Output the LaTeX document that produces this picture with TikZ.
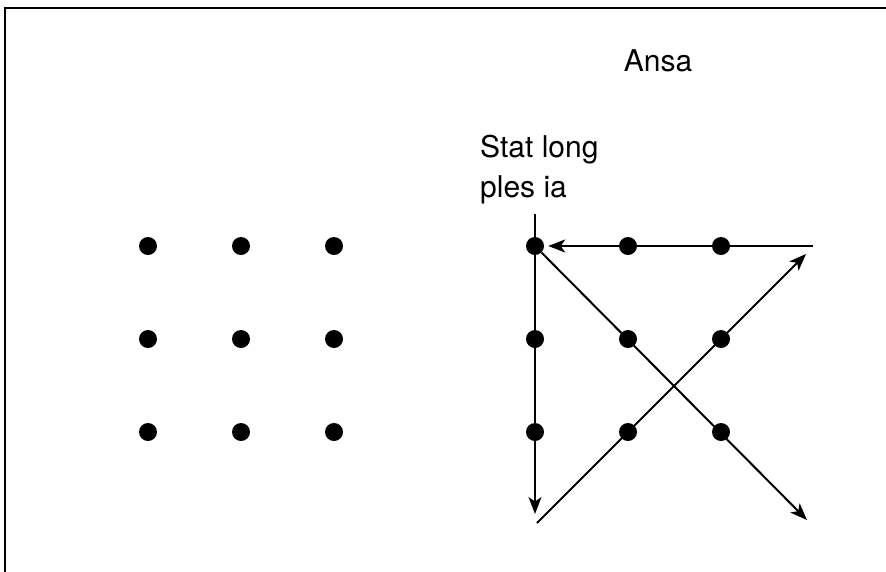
\documentclass[tikz,border=0pt]{standalone}
\usepackage{fontspec}
\setmainfont{TeX Gyre Heros}
\usetikzlibrary{arrows.meta}
\begin{document}
\begin{tikzpicture}[x=1pt,y=-1pt,
  dot/.style={circle,fill=black,inner sep=0pt,minimum size=18pt},
  conn/.style={line width=2pt},
  arr/.style={conn,-{Stealth[length=17pt,width=13pt,inset=4.5pt]}},
  lbl/.style={font=\fontsize{30}{40}\selectfont,inner sep=0pt,anchor=base west}]
\useasboundingbox (0,0) rectangle (886,571);
% frame (only top and left edges are inside the picture)
\coordinate (fTR) at (900,8);
\coordinate (fTL) at (5,8);
\coordinate (fBL) at (5,590);
\draw[line width=1.5pt] (fTR) -- (fTL) -- (fBL);
% left grid
\foreach \i/\x in {1/148,2/241,3/334}{
  \foreach \j/\y in {1/246,2/339,3/432}{
    \node[dot] (L\i\j) at (\x,\y) {};
  }
}
% right grid
\foreach \i/\x in {1/535,2/628,3/721}{
  \foreach \j/\y in {1/246,2/339,3/432}{
    \node[dot] (R\i\j) at (\x,\y) {};
  }
}
% labels
\node[lbl,anchor=base] (ansa) at (658,71) {Ansa};
\node[lbl] (stat1) at (480,157) {Stat long};
\node[lbl] (stat2) at (480,197) {ples ia};
% connectors
\coordinate (vTop) at (535,214);
\coordinate (vBot) at (535,514);
\coordinate (hRight) at (813,246);
\coordinate (d1End) at (807,520);
\coordinate (d2Start) at (537,523);
\coordinate (d2End) at (806,254);
\draw[arr] (vTop) -- (vBot);
\draw[arr,shorten >=4pt] (hRight) -- (R11);
\draw[arr] (R11) -- (d1End);
\draw[arr] (d2Start) -- (d2End);
\end{tikzpicture}
\end{document}
